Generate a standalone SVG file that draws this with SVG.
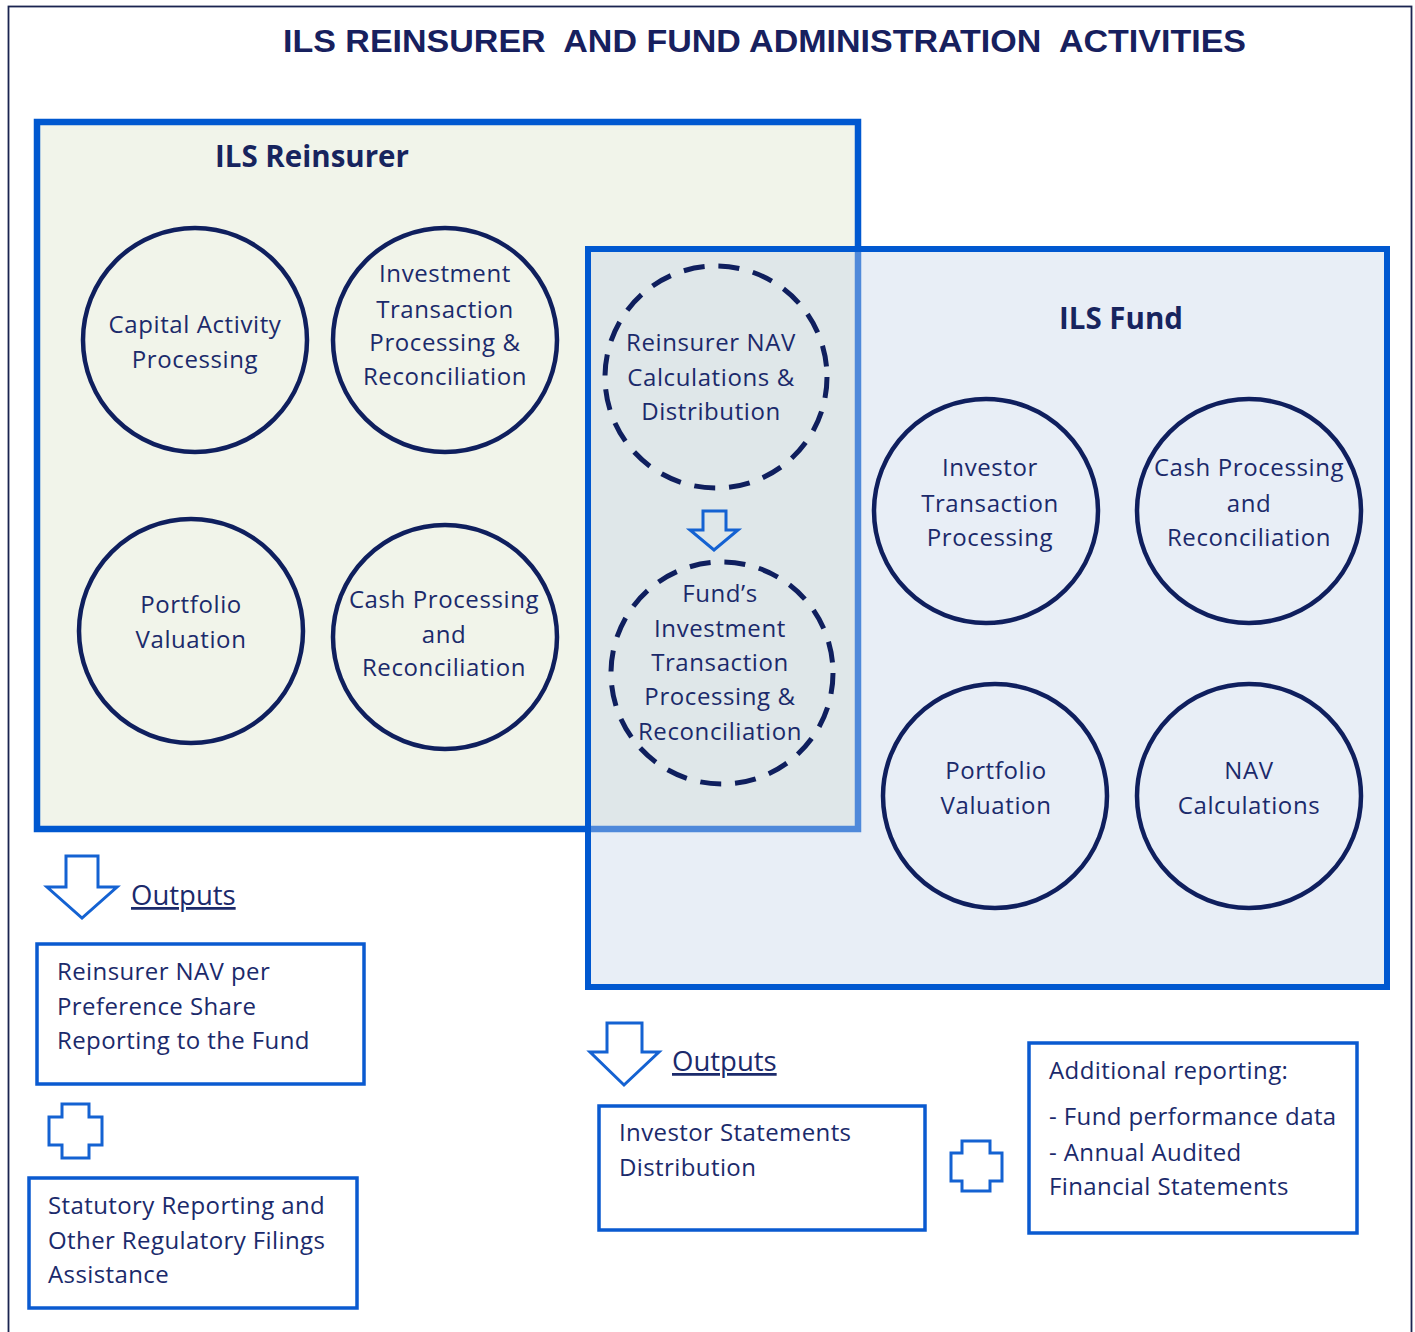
<svg xmlns="http://www.w3.org/2000/svg" width="1415" height="1332" viewBox="0 0 1415 1332">
<style>
.t{font-family:"Open Sans","Liberation Sans",sans-serif;font-size:24px;letter-spacing:0.6px;fill:#1b2a6b;text-anchor:middle}
.tl{font-family:"Open Sans","Liberation Sans",sans-serif;font-size:24px;letter-spacing:0.4px;fill:#1b2a6b}
.h{font-family:"Open Sans","Liberation Sans",sans-serif;font-size:29.5px;font-weight:bold;fill:#17245e;text-anchor:middle}
.c{fill:none;stroke:#0f1f5e;stroke-width:4.5}
.d{fill:none;stroke:#0f1f5e;stroke-width:5;stroke-dasharray:21 14}
.b{fill:#ffffff;stroke:#0a5ad0;stroke-width:3.5}
.ar{fill:none;stroke:#1462d2;stroke-width:3;stroke-linejoin:miter}
.o{font-family:"Open Sans","Liberation Sans",sans-serif;font-size:27.5px;fill:#1b2a6b;text-decoration:underline}
</style>
<rect x="0" y="0" width="1415" height="1332" fill="#ffffff"/>
<rect x="8.5" y="6.5" width="1403" height="1340" fill="none" stroke="#1a2450" stroke-width="1.8"/>
<text x="283" y="52" xml:space="preserve" textLength="963" lengthAdjust="spacingAndGlyphs" style="font-family:'Liberation Sans',sans-serif;font-size:32px;font-weight:bold;fill:#17205e">ILS REINSURER  AND FUND ADMINISTRATION  ACTIVITIES</text>

<g id="ils-reinsurer">
<rect x="37" y="122" width="821" height="707" fill="#f1f4ea" stroke="#0058d0" stroke-width="6.5"/>
<text class="h" x="312" y="167">ILS Reinsurer</text>
</g>
<g id="ils-fund">
<rect x="588" y="249" width="799" height="738" fill="#c6d5e9" fill-opacity="0.4"/>
<rect x="588" y="249" width="799" height="738" fill="none" stroke="#0058d0" stroke-width="6"/>
<text class="h" x="1121" y="329">ILS Fund</text>
</g>

<g id="capital-activity">
<circle class="c" cx="195" cy="340" r="112"/>
<text class="t" x="195" y="333">Capital Activity</text>
<text class="t" x="195" y="368">Processing</text>
</g>
<g id="investment-transaction">
<circle class="c" cx="445" cy="340" r="112"/>
<text class="t" x="445" y="282">Investment</text>
<text class="t" x="445" y="318">Transaction</text>
<text class="t" x="445" y="351">Processing &amp;</text>
<text class="t" x="445" y="385">Reconciliation</text>
</g>
<g id="portfolio-valuation-r">
<circle class="c" cx="191" cy="631" r="112"/>
<text class="t" x="191" y="613">Portfolio</text>
<text class="t" x="191" y="648">Valuation</text>
</g>
<g id="cash-processing-r">
<circle class="c" cx="445" cy="637" r="112"/>
<text class="t" x="444" y="608">Cash Processing</text>
<text class="t" x="444" y="643">and</text>
<text class="t" x="444" y="676">Reconciliation</text>
</g>
<g id="reinsurer-nav">
<circle class="d" cx="716" cy="377" r="111"/>
<text class="t" x="711" y="351">Reinsurer NAV</text>
<text class="t" x="711" y="386">Calculations &amp;</text>
<text class="t" x="711" y="420">Distribution</text>
</g>
<g id="funds-investment">
<circle class="d" cx="722" cy="673" r="111"/>
<text class="t" x="720" y="602">Fund’s</text>
<text class="t" x="720" y="637">Investment</text>
<text class="t" x="720" y="671">Transaction</text>
<text class="t" x="720" y="705">Processing &amp;</text>
<text class="t" x="720" y="740">Reconciliation</text>
</g>
<g id="investor-transaction">
<circle class="c" cx="986" cy="511" r="112"/>
<text class="t" x="990" y="476">Investor</text>
<text class="t" x="990" y="512">Transaction</text>
<text class="t" x="990" y="546">Processing</text>
</g>
<g id="cash-processing-f">
<circle class="c" cx="1249" cy="511" r="112"/>
<text class="t" x="1249" y="476">Cash Processing</text>
<text class="t" x="1249" y="512">and</text>
<text class="t" x="1249" y="546">Reconciliation</text>
</g>
<g id="portfolio-valuation-f">
<circle class="c" cx="995" cy="796" r="112"/>
<text class="t" x="996" y="779">Portfolio</text>
<text class="t" x="996" y="814">Valuation</text>
</g>
<g id="nav-calculations">
<circle class="c" cx="1249" cy="796" r="112"/>
<text class="t" x="1249" y="779">NAV</text>
<text class="t" x="1249" y="814">Calculations</text>
</g>

<g id="connectors">
<path class="ar" d="M703,511 H726 V530 H738 L714,550 L690,530 H703 Z"/>
<path class="ar" d="M66,856 H98 V887 H117 L82,918 L47,887 H66 Z"/>
<path class="ar" d="M607,1023 H642 V1052 H659 L624,1085 L590,1052 H607 Z"/>
<path class="ar" d="M62,1104 H89 V1117 H102 V1145 H89 V1158 H62 V1145 H49 V1117 H62 Z"/>
<path class="ar" d="M962,1141 H990 V1153 H1002 V1181 H990 V1191 H962 V1181 H951 V1153 H962 Z"/>
</g>

<g id="outputs-left">
<text class="o" x="131" y="905">Outputs</text>
</g>
<g id="reinsurer-nav-output">
<rect class="b" x="37" y="944" width="327" height="140"/>
<text class="tl" x="57" y="980">Reinsurer NAV per</text>
<text class="tl" x="57" y="1015">Preference Share</text>
<text class="tl" x="57" y="1049">Reporting to the Fund</text>
</g>
<g id="statutory-reporting">
<rect class="b" x="29" y="1178" width="328" height="130"/>
<text class="tl" x="48" y="1214">Statutory Reporting and</text>
<text class="tl" x="48" y="1249">Other Regulatory Filings</text>
<text class="tl" x="48" y="1283">Assistance</text>
</g>
<g id="outputs-right">
<text class="o" x="672" y="1071">Outputs</text>
</g>
<g id="investor-statements">
<rect class="b" x="599" y="1106" width="326" height="124"/>
<text class="tl" x="619" y="1141">Investor Statements</text>
<text class="tl" x="619" y="1176">Distribution</text>
</g>
<g id="additional-reporting">
<rect class="b" x="1029" y="1043" width="328" height="190"/>
<text class="tl" x="1049" y="1079">Additional reporting:</text>
<text class="tl" x="1049" y="1125">- Fund performance data</text>
<text class="tl" x="1049" y="1161">- Annual Audited</text>
<text class="tl" x="1049" y="1195">Financial Statements</text>
</g>
</svg>
